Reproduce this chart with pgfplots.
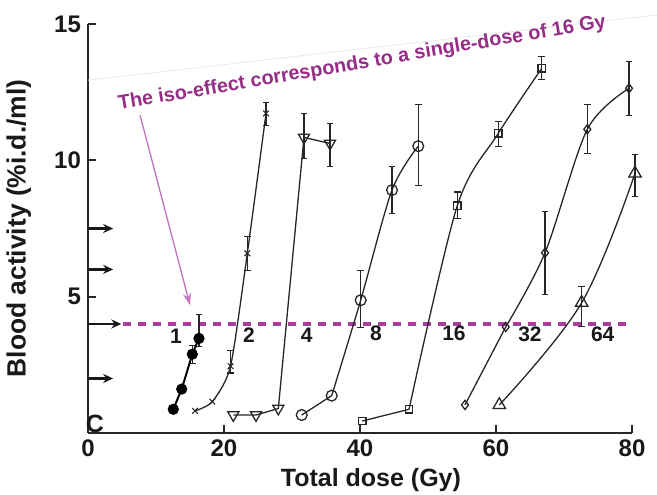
\documentclass[border=0pt]{standalone}
\usepackage{pgfplots}
\pgfplotsset{compat=1.18}
\usepackage{pgfplotstable}
\usepackage{fontspec}
\setmainfont{Liberation Sans}
\usetikzlibrary{arrows.meta}
\definecolor{annot}{RGB}{150,45,135}
\definecolor{dashc}{RGB}{170,60,160}
\definecolor{arrc}{RGB}{195,115,190}

% series: x = total dose (Gy), y = blood activity
\pgfplotstableread{
x y
12.54 0.87
13.78 1.61
15.34 2.89
16.32 3.47
}\sA
\pgfplotstableread{
x y ep em
15.34 2.89 0.33 0.33
16.32 3.47 0.86 0.30
}\sAe
\pgfplotstableread{
x y
15.74 0.81
18.28 1.15
20.96 2.45
23.43 6.59
26.18 11.72
}\sB
\pgfplotstableread{
x y ep em
20.96 2.45 0.59 0.25
23.43 6.59 0.63 0.63
26.18 11.72 0.40 0.45
}\sBe
\pgfplotstableread{
x y
21.37 0.66
24.71 0.66
27.99 0.90
31.76 10.84
35.59 10.62
}\sC
\pgfplotstableread{
x y ep em
31.76 10.84 0.88 0.77
35.59 10.62 0.74 0.85
}\sCe
\pgfplotstableread{
x y
31.43 0.66
35.84 1.37
40.10 4.87
44.71 8.91
48.57 10.52
}\sD
\pgfplotstableread{
x y ep em
40.10 4.87 1.08 1.00
44.71 8.91 0.87 0.85
48.57 10.52 1.53 1.43
}\sDe
\pgfplotstableread{
x y
40.34 0.44
47.21 0.87
54.31 8.34
60.34 10.99
66.72 13.37
}\sE
\pgfplotstableread{
x y ep em
54.31 8.34 0.50 0.48
60.34 10.99 0.42 0.47
66.72 13.37 0.44 0.41
}\sEe
\pgfplotstableread{
x y
55.44 1.03
61.43 3.89
67.21 6.61
73.43 11.14
79.56 12.64
}\sF
\pgfplotstableread{
x y ep em
67.21 6.61 1.53 1.53
73.43 11.14 0.90 0.89
79.56 12.64 1.00 1.00
}\sFe
\pgfplotstableread{
x y
60.49 1.03
72.60 4.78
80.44 9.52
}\sG
\pgfplotstableread{
x y ep em
72.60 4.78 0.60 0.89
80.44 9.52 0.69 0.84
}\sGe
\pgfplotstableread{
x y u
0 2 3.7
0 4 4.9
0 6 3.7
0 7.5 3.7
}\arr

\begin{document}
\begin{tikzpicture}
\begin{axis}[
  width=272pt, height=204.5pt, scale only axis,
  xmin=0, xmax=80, ymin=0, ymax=15,
  clip=false,
  axis x line=bottom, axis y line=left,
  axis line style={-, line width=0.9pt, black!85},
  tick align=inside, major tick length=4pt,
  tick style={line width=0.9pt, black!85},
  xtick={0,20,40,60,80}, ytick={5,10,15},
  ticklabel style={font=\bfseries\fontsize{12}{12}\selectfont, black!90},
  /pgf/number format/assume math mode=true,
  xlabel={Total dose (Gy)},
  ylabel={Blood activity (\%i.d./ml)},
  xlabel style={font=\bfseries\fontsize{12.5}{13}\selectfont, black!90, at={(axis description cs:0.52,-0.115)}, anchor=center},
  ylabel style={font=\bfseries\fontsize{13.2}{14}\selectfont, black!90, at={(axis description cs:-0.127,0.5)}, anchor=center},
  error bars/error bar style={line width=0.55pt, black!85},
  error bars/error mark options={line width=0.55pt, mark size=1.7pt, black!85, rotate=90},
  linestyle/.style={black!85, line width=0.65pt, mark=none},
]
\coordinate (BL) at (rel axis cs:0,0);
\coordinate (TR) at (rel axis cs:1,1);

% faint box edge
\addplot[gray!18, line width=0.4pt] coordinates {(0,12.94) (83.7,15.33)};

% arrows on y axis
\addplot[black!90, line width=1.1pt, quiver={u=\thisrow{u}, v=0}, -{Stealth[length=5pt,width=4.5pt]}] table[x=x,y=y] {\arr};
% iso-effect level
\addplot[dashc, line width=1.6pt, dash pattern=on 4pt off 3.5pt] coordinates {(5.1,4) (79.2,4)};

% error bars
\addplot[draw=none, mark=none, error bars/.cd, y dir=both, y explicit] table[x=x,y=y,y error plus=ep,y error minus=em] {\sAe};
\addplot[draw=none, mark=none, error bars/.cd, y dir=both, y explicit] table[x=x,y=y,y error plus=ep,y error minus=em] {\sBe};
\addplot[draw=none, mark=none, error bars/.cd, y dir=both, y explicit] table[x=x,y=y,y error plus=ep,y error minus=em] {\sCe};
\addplot[draw=none, mark=none, error bars/.cd, y dir=both, y explicit] table[x=x,y=y,y error plus=ep,y error minus=em] {\sDe};
\addplot[draw=none, mark=none, error bars/.cd, y dir=both, y explicit] table[x=x,y=y,y error plus=ep,y error minus=em] {\sEe};
\addplot[draw=none, mark=none, error bars/.cd, y dir=both, y explicit] table[x=x,y=y,y error plus=ep,y error minus=em] {\sFe};
\addplot[draw=none, mark=none, error bars/.cd, y dir=both, y explicit] table[x=x,y=y,y error plus=ep,y error minus=em] {\sGe};

% curves (lines)
\addplot[black, line width=1pt, mark=none] table[x=x,y=y] {\sA};
\addplot[linestyle, smooth, tension=0.4] table[x=x,y=y] {\sB};
\addplot[linestyle] table[x=x,y=y] {\sC};
\addplot[linestyle] table[x=x,y=y, skip coords between index={2}{5}] {\sD};
\addplot[linestyle, smooth, tension=0.5] table[x=x,y=y, skip coords between index={0}{1}] {\sD};
\addplot[linestyle] table[x=x,y=y, skip coords between index={2}{5}] {\sE};
\addplot[linestyle, smooth, tension=0.5] table[x=x,y=y, skip coords between index={0}{1}] {\sE};
\addplot[linestyle] table[x=x,y=y, skip coords between index={2}{5}] {\sF};
\addplot[linestyle, smooth, tension=0.5] table[x=x,y=y, skip coords between index={0}{1}] {\sF};
\addplot[linestyle, smooth, tension=0.6] table[x=x,y=y] {\sG};

% markers
\addplot[only marks, black, mark=*, mark size=2.6pt, mark options={fill=black}] table[x=x,y=y] {\sA};
\addplot[only marks, black!85, mark=x, mark size=2pt, mark options={line width=0.55pt}] table[x=x,y=y] {\sB};
\addplot[only marks, black!85, mark=triangle, mark size=3.2pt, mark options={fill=white, rotate=180, line width=0.65pt}] table[x=x,y=y] {\sC};
\addplot[only marks, black!85, mark=o, mark size=2.7pt, mark options={fill=white, line width=0.65pt}] table[x=x,y=y] {\sD};
\addplot[only marks, black!85, mark=square, mark size=1.8pt, mark options={fill=white, line width=0.65pt}] table[x=x,y=y] {\sE};
\addplot[only marks, black!85, mark=diamond, mark size=2.3pt, mark options={fill=white, line width=0.65pt}] table[x=x,y=y] {\sF};
\addplot[only marks, black!85, mark=triangle, mark size=3.6pt, mark options={fill=white, line width=0.65pt}] table[x=x,y=y] {\sG};

% labels
\begin{scope}[every node/.style={font=\bfseries\fontsize{10.5}{11}\selectfont, black!90}]
\node at (axis cs:12.94,3.53) {1};
\node at (axis cs:23.68,3.59) {2};
\node at (axis cs:32.16,3.59) {4};
\node at (axis cs:42.35,3.66) {8};
\node at (axis cs:53.82,3.66) {16};
\node at (axis cs:64.99,3.63) {32};
\node at (axis cs:75.69,3.63) {64};
\end{scope}
\node[font=\bfseries\fontsize{12.5}{12.5}\selectfont, black!90] at (axis cs:1.0,0.35) {C};

% annotation
\draw[arrc, line width=0.65pt, -{Stealth[length=6pt,width=4pt]}] (axis cs:7.65,11.66) -- (axis cs:15.0,4.69);
\node[annot, rotate=9.6, font=\bfseries\fontsize{9.9}{11}\selectfont] at (axis cs:40.3,13.55) {The iso-effect corresponds to a single-dose of 16 Gy};
\end{axis}
\pgfresetboundingbox
\path ([shift={(-44pt,-30.5pt)}]BL) rectangle ([shift={(12.5pt,12pt)}]TR);
\end{tikzpicture}
\end{document}
